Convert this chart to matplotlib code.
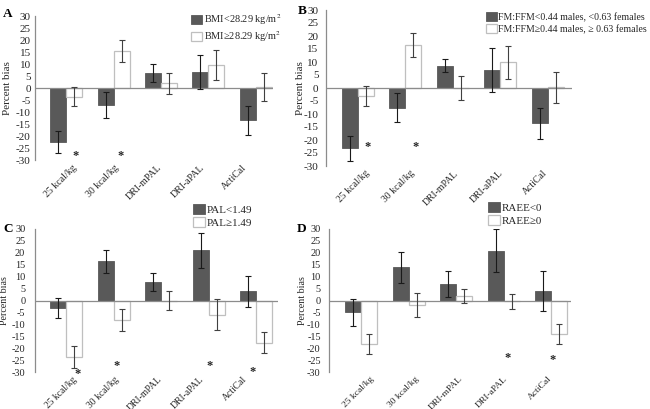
import numpy as np
import matplotlib
matplotlib.use("Agg")
import matplotlib.pyplot as plt
import matplotlib.transforms as mtransforms

categories = ["25 kcal/kg", "30 kcal/kg", "DRI-mPAL", "DRI-aPAL", "ActiCal"]
yticks = list(range(-30, 31, 5))

# Panel A
a_labels = ["BMI<28.29 kg/m$^2$", "BMI\u226528.29 kg/m$^2$"]
a_low = [-22.4, -7.0, 6.2, 6.8, -13.5]
a_low_err = [4.5, 5.3, 3.8, 7.1, 5.9]
a_high = [-3.7, 15.5, 1.9, 9.5, 0.3]
a_high_err = [4.0, 4.5, 4.4, 6.3, 5.8]
a_stars = [0, 1]

# Panel B
b_labels = ["FM:FFM<0.44 males, <0.63 females", "FM:FFM\u22650.44 males, \u2265 0.63 females"]
b_low = [-23.2, -7.6, 8.6, 7.0, -13.5]
b_low_err = [4.7, 5.5, 2.6, 8.5, 6.0]
b_high = [-3.2, 16.5, 0.0, 9.9, 0.3]
b_high_err = [3.8, 4.6, 4.6, 6.4, 5.9]
b_stars = [0, 1]

# Panel C
c_labels = ["PAL<1.49", "PAL\u22651.49"]
c_low = [-3.1, 16.4, 7.7, 21.0, 3.8]
c_low_err = [4.2, 4.9, 3.9, 7.5, 6.4]
c_high = [-23.8, -8.1, 0.0, -5.9, -17.8]
c_high_err = [4.6, 4.5, 3.8, 6.6, 4.4]
c_stars = [0, 1, 3, 4]

# Panel D
d_labels = ["RAEE<0", "RAEE\u22650"]
d_low = [-5.0, 13.9, 6.9, 20.9, 3.9]
d_low_err = [5.5, 6.6, 5.5, 9.0, 8.5]
d_high = [-18.2, -1.8, 1.8, -0.3, -14.2]
d_high_err = [4.2, 5.1, 3.0, 3.2, 4.2]
d_stars = [3, 4]

W, H = 650, 409
plt.rcParams["font.family"] = ["Liberation Serif", "DejaVu Serif"]
plt.rcParams["mathtext.fontset"] = "stix"
fig = plt.figure(figsize=(W / 100, H / 100), dpi=100)

DARK = "#595959"
LIGHT_EDGE = "#bfbfbf"
AXC = "#8c8c8c"
TXT = "#262626"
spacing = 47.5  # px per category

panels = [
    dict(letter="A", left=35, right=273, top=16, bottom=160, c0=66,
         low=a_low, le=a_low_err, high=a_high, he=a_high_err, labels=a_labels, stars=a_stars,
         tfs=8.0, xfs=7.1, yfs=8.0, lfs=7.4, letter_xy=(3, 14), ylab_x=12, leg=(191, 12),
         star_pos=[(0.21, -28.3), (0.16, -28.3)], tpad=3.0, xl=(6, -5)),
    dict(letter="B", left=326, right=572, top=10, bottom=166, c0=358,
         low=b_low, le=b_low_err, high=b_high, he=b_high_err, labels=b_labels, stars=b_stars,
         tfs=8.0, xfs=7.0, yfs=8.0, lfs=7.1, letter_xy=(298, 11), ylab_x=305, leg=(486, 12),
         star_pos=[(0.21, -22.7), (0.22, -22.7)], tpad=5.5, xl=(7, -3)),
    dict(letter="C", left=35, right=278, top=229, bottom=372, c0=66,
         low=c_low, le=c_low_err, high=c_high, he=c_high_err, labels=c_labels, stars=c_stars,
         tfs=7.4, xfs=6.9, yfs=7.2, lfs=7.9, letter_xy=(3, 229), ylab_x=9, leg=(193, 204),
         star_pos=[(0.25, -31.0), (0.07, -27.3), (0.03, -27.3), (-0.08, -30.2)], tpad=7.0, xl=(6, -5)),
    dict(letter="D", left=329, right=571, top=229, bottom=372, c0=361,
         low=d_low, le=d_low_err, high=d_high, he=d_high_err, labels=d_labels, stars=d_stars,
         tfs=7.4, xfs=6.8, yfs=7.2, lfs=7.9, letter_xy=(297, 229), ylab_x=307, leg=(488, 202),
         star_pos=[(0.08, -24.0), (0.04, -25.0)], tpad=6.0, xl=(9, -3)),
]

for p in panels:
    l, r, t, b = p["left"], p["right"], p["top"], p["bottom"]
    ax = fig.add_axes([l / W, 1 - b / H, (r - l) / W, (b - t) / H])
    x = np.arange(len(categories))
    xmin = (l - p["c0"]) / spacing
    xmax = (r - p["c0"]) / spacing
    bw = 16 / spacing
    ax.bar(x - bw / 2, p["low"], width=bw, color=DARK, edgecolor=DARK, linewidth=0.6,
           label=p["labels"][0], zorder=2)
    ax.bar(x + bw / 2, p["high"], width=bw, color="white", edgecolor=LIGHT_EDGE, linewidth=0.9,
           label=p["labels"][1], zorder=2)
    ax.errorbar(x - bw / 2, p["low"], yerr=p["le"], fmt="none", ecolor="#1a1a1a",
                elinewidth=0.8, capsize=2.3, capthick=0.8, zorder=4)
    ax.errorbar(x + bw / 2, p["high"], yerr=p["he"], fmt="none", ecolor="#404040",
                elinewidth=0.8, capsize=2.3, capthick=0.8, zorder=4)
    ax.axhline(0, color=AXC, linewidth=0.9, zorder=3)
    ax.set_xlim(xmin, xmax)
    ax.set_ylim(-30, 30)
    ax.set_yticks(yticks)
    ax.set_yticklabels([str(v) for v in yticks], fontsize=p["tfs"], color=TXT)
    ax.tick_params(axis="y", length=0, pad=p["tpad"])
    ax.tick_params(axis="x", length=0, pad=2)
    ax.set_xticks(x)
    ax.set_xticklabels(categories, rotation=45, ha="right", rotation_mode="anchor",
                       fontsize=p["xfs"], color=TXT)
    x0, dx = p["xl"]
    for i, lab in enumerate(ax.get_xticklabels()):
        off = mtransforms.ScaledTranslation((x0 + dx * i) / 100, 0, fig.dpi_scale_trans)
        lab.set_transform(lab.get_transform() + off)
    for s in ["top", "right", "bottom"]:
        ax.spines[s].set_visible(False)
    ax.spines["left"].set_color(AXC)
    ax.spines["left"].set_linewidth(0.9)
    ax.set_facecolor("none")
    ax.set_ylabel("Percent bias", fontsize=p["yfs"], color=TXT)
    ax.yaxis.set_label_coords((p["ylab_x"] - l) / (r - l), 0.5)
    for i, (sx, sy) in zip(p["stars"], p["star_pos"]):
        ax.text(i + sx, sy, "*", fontsize=9, fontweight="bold",
                ha="center", va="center", color=TXT, clip_on=False)
    fig.text(p["letter_xy"][0] / W, 1 - p["letter_xy"][1] / H, p["letter"], fontsize=9.5,
             fontweight="bold", ha="left", va="center", color="black")
    lx, ly = p["leg"]
    ax.legend(loc="upper left", bbox_to_anchor=(lx / W, 1 - ly / H), bbox_transform=fig.transFigure,
              frameon=False, fontsize=p["lfs"], handlelength=1.1, handleheight=1.0,
              handletextpad=0.15, borderpad=0, borderaxespad=0, labelspacing=0.25,
              labelcolor=TXT)

fig.savefig("out.png", dpi=100)
